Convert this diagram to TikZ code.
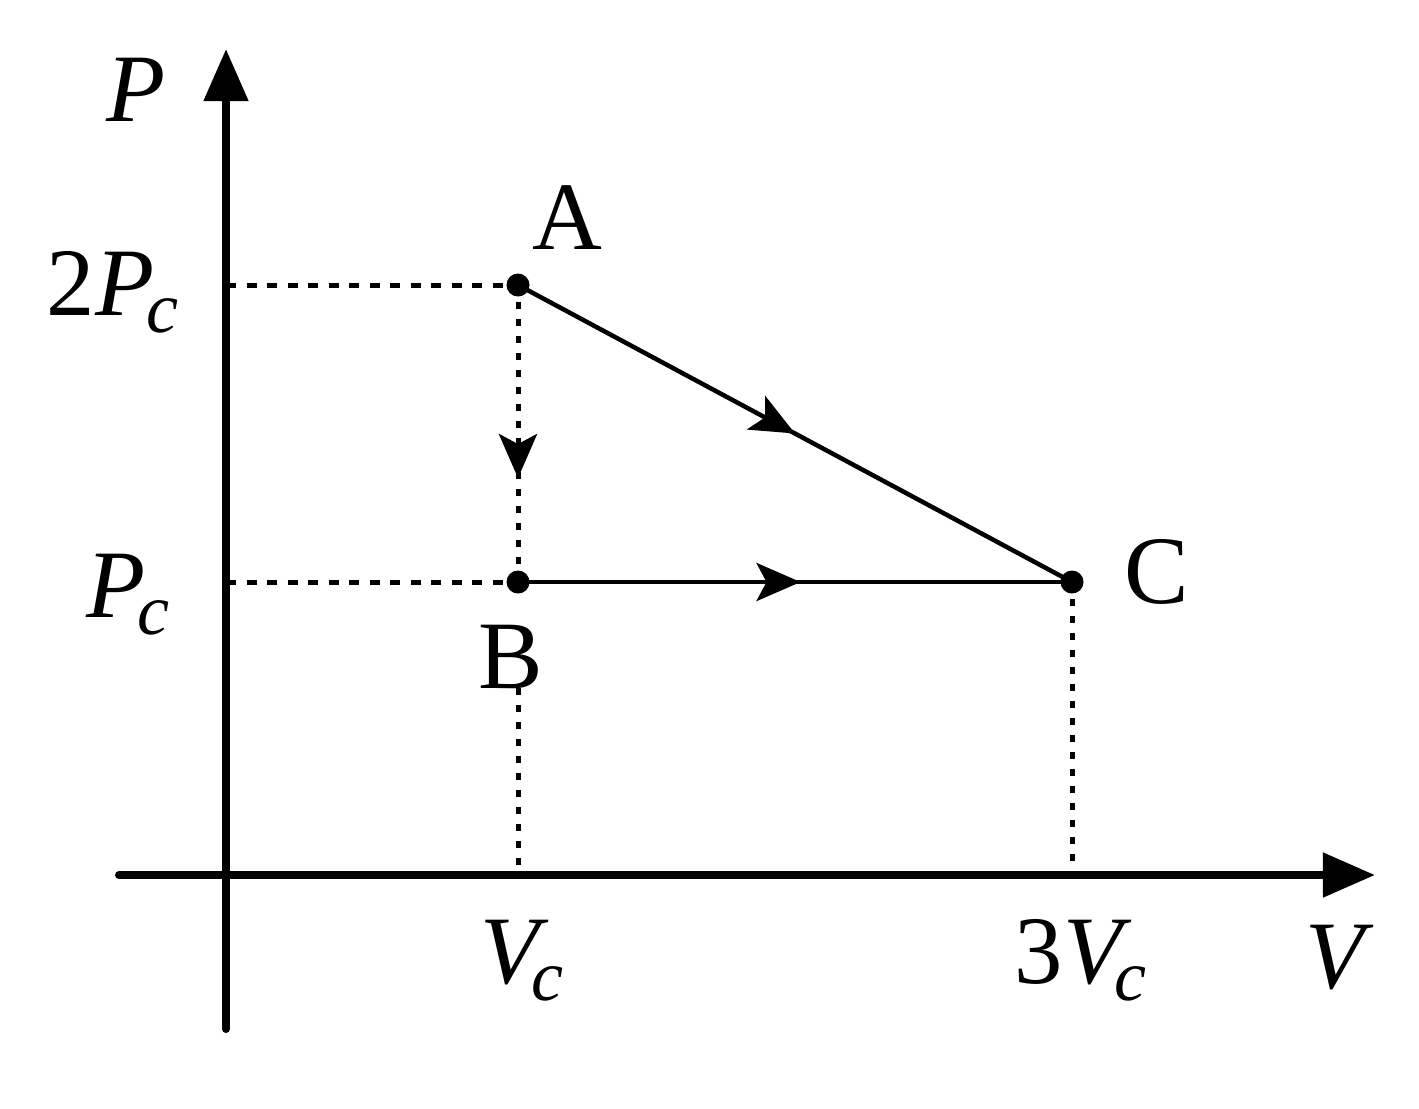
\documentclass[tikz,border=0pt]{standalone}
\usepackage{fontspec}
\setmainfont{Liberation Serif}
\usetikzlibrary{arrows.meta,decorations.markings}
\newcommand{\subc}{\kern-0.08cm\raisebox{-0.17cm}{\fontsize{20.5}{20.5}\selectfont\itshape c}}
\begin{document}
\begin{tikzpicture}[x=0.01cm,y=-0.01cm,
  axis/.style={line width=0.08cm, line cap=round, -{Triangle[length=0.52cm,width=0.43cm]}},
  proc/.style={line width=0.045cm},
  hdash/.style={line width=0.05cm, dash pattern=on 0.10cm off 0.105cm},
  vdash/.style={line width=0.05cm, dash pattern=on 0.07cm off 0.10cm},
  dot/.style={circle, fill=black, inner sep=0, minimum size=0.23cm},
  lbl/.style={inner sep=0, anchor=base west, font=\fontsize{27.5}{30}\selectfont},
  midarrow/.style={postaction={decorate}, decoration={markings, mark=at position #1 with {\arrow{Stealth[length=0.44cm,width=0.38cm,inset=0.1cm]}}}}
]
\useasboundingbox (0,0) rectangle (1419,1108);
% axes
\coordinate (xL) at (119,875);
\coordinate (xR) at (1375,875);
\coordinate (yB) at (226,1029);
\coordinate (yT) at (226,49);
\draw[axis] (xL) -- (xR);
\draw[axis] (yB) -- (yT);
% states
\node[dot] (A) at (518,285) {};
\node[dot] (B) at (518,582) {};
\node[dot] (C) at (1072,582) {};
% helper coordinates
\coordinate (yA) at (226,285);
\coordinate (yBp) at (226,582);
\coordinate (xBp) at (518,875);
\coordinate (xCp) at (1072,875);
% labels
\node[lbl] (lP) at (106,121) {\itshape P};
\node[lbl] (l2Pc) at (46,315) {2\itshape P\subc};
\node[lbl] (lPc) at (86,617) {\itshape P\subc};
\node[lbl] (lA) at (532,249) {A};
\node[lbl] (lB) at (478,688) {B};
\node[lbl] (lC) at (1124,603) {C};
\node[lbl] (lVc) at (480,983) {\itshape V\subc};
\node[lbl] (l3Vc) at (1014,983) {3\itshape V\subc};
\node[lbl] (lV) at (1305,988) {\itshape V};
% guide lines
\draw[hdash] (yA) -- (A.center);
\draw[hdash] (yBp) -- (B.center);
\draw[vdash, midarrow=0.65] (A.center) -- (B.center);
\draw[vdash] (lB.base -| B.center) -- (xBp);
\draw[vdash] (C.center) -- (xCp);
% process
\draw[proc, midarrow=0.5] (A.center) -- (C.center);
\draw[proc, midarrow=0.51] (B.center) -- (C.center);
\end{tikzpicture}
\end{document}
